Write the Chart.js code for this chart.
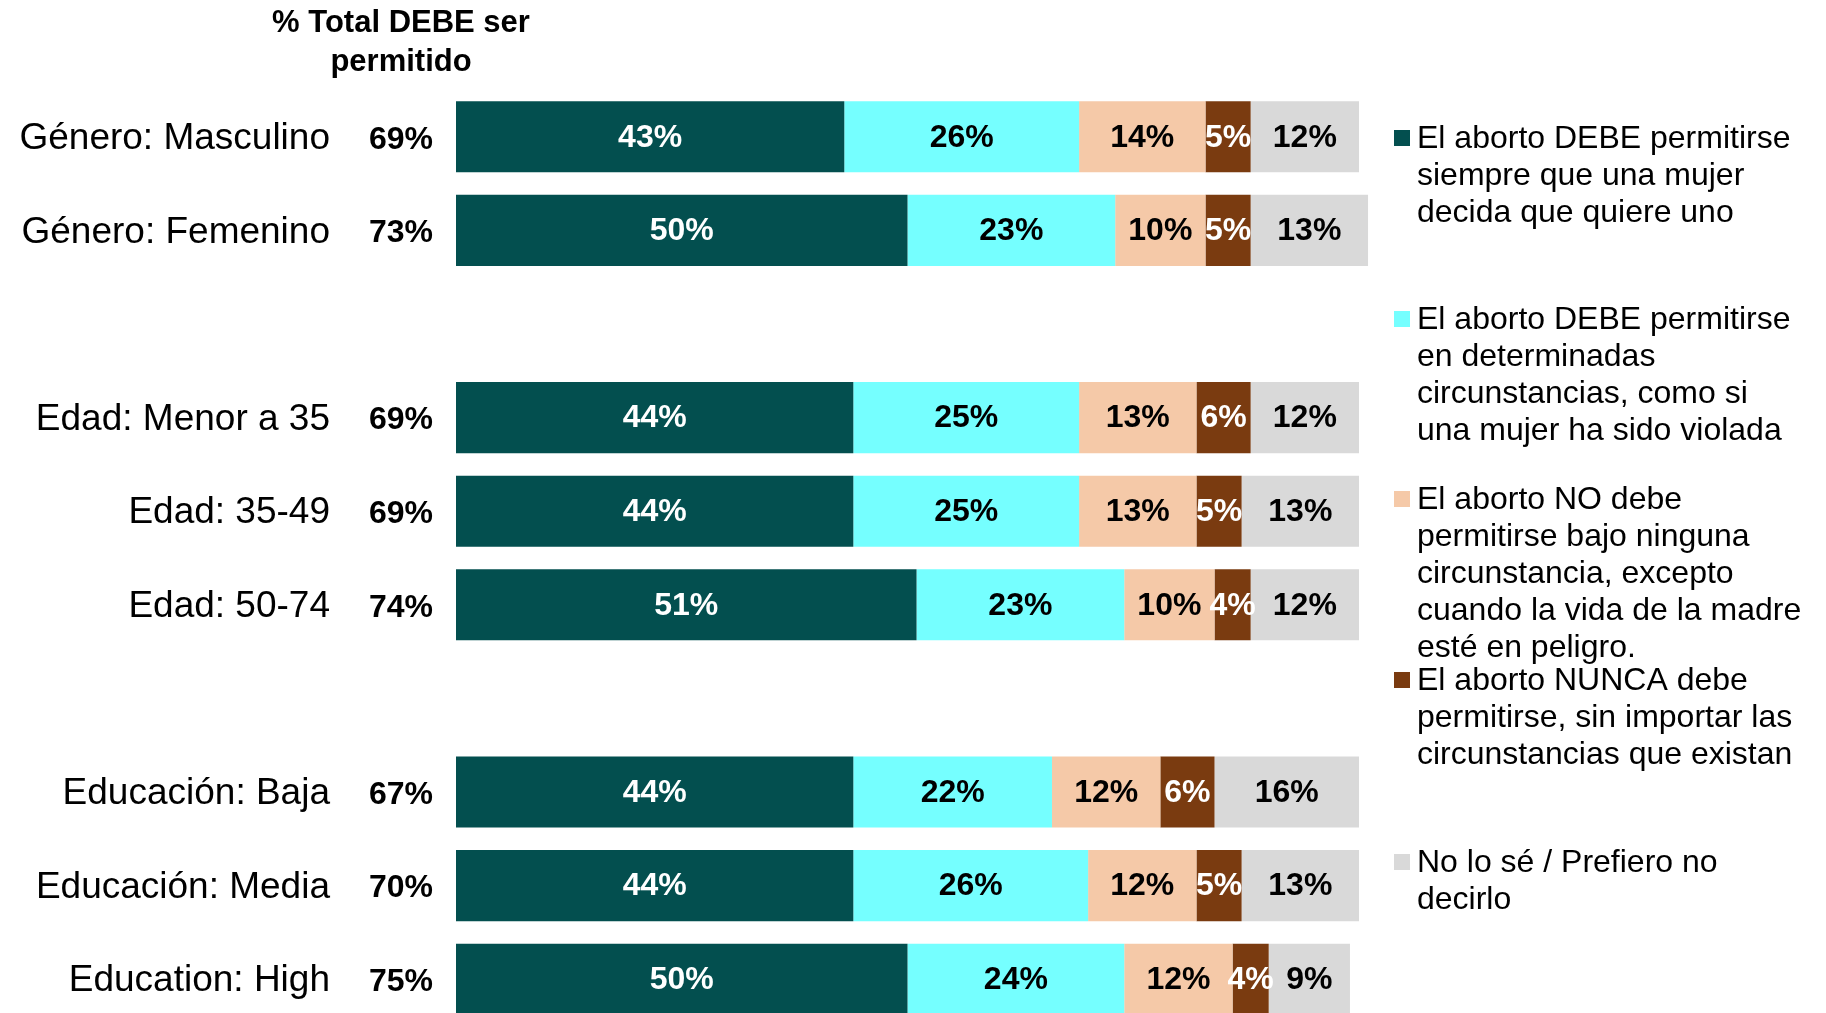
<!DOCTYPE html>
<html>
<head>
    <meta charset="UTF-8">
    <title>Aborto por grupo</title>
    <script src="https://cdn.jsdelivr.net/npm/chart.js"></script>
    <style>
        body {
            margin: 0;
            padding: 0;
            background-color: #ffffff;
            overflow: hidden;
        }
        .chart-container {
            position: relative;
            width: 1826px;
            height: 1040px;
        }
    </style>
</head>
<body>
    <div class="chart-container">
        <canvas id="abortoChart" width="1826" height="1040"></canvas>
    </div>

    <script>
        // categorias (las filas vacias separan los grupos)
        const categories = ['Género: Masculino', 'Género: Femenino', '',
            'Edad: Menor a 35', 'Edad: 35-49', 'Edad: 50-74', '',
            'Educación: Baja', 'Educación: Media', 'Education: High'];
        const totalDebe = [69, 73, null, 69, 69, 74, null, 67, 70, 75];

        // valores por serie (%)
        const siempre        = [43, 50, null, 44, 44, 51, null, 44, 44, 50];
        const circunstancias = [26, 23, null, 25, 25, 23, null, 22, 26, 24];
        const excepto        = [14, 10, null, 13, 13, 10, null, 12, 12, 12];
        const nunca          = [5, 5, null, 6, 5, 4, null, 6, 5, 4];
        const noSe           = [12, 13, null, 12, 13, 12, null, 16, 13, 9];

        const seriesNames = [
            ['El aborto DEBE permitirse', 'siempre que una mujer', 'decida que quiere uno'],
            ['El aborto DEBE permitirse', 'en determinadas', 'circunstancias, como si', 'una mujer ha sido violada'],
            ['El aborto NO debe', 'permitirse bajo ninguna', 'circunstancia, excepto', 'cuando la vida de la madre', 'esté en peligro.'],
            ['El aborto NUNCA debe', 'permitirse, sin importar las', 'circunstancias que existan'],
            ['No lo sé / Prefiero no', 'decirlo']
        ];
        const seriesValues = [siempre, circunstancias, excepto, nunca, noSe];
        const seriesColors = ['#034f4f', '#75ffff', '#f5c9a8', '#7a3b10', '#d9d9d9'];
        const labelColors = ['#ffffff', '#000000', '#000000', '#ffffff', '#000000'];

        const FONT = '"Liberation Sans", Arial, sans-serif';

        // etiquetas, totales, encabezado y leyenda
        const extrasPlugin = {
            id: 'extras',
            afterDatasetsDraw(chart) {
                const ctx = chart.ctx;
                const yScale = chart.scales.y;
                ctx.save();

                // valores dentro de las barras
                ctx.font = 'bold 32px ' + FONT;
                ctx.textAlign = 'center';
                ctx.textBaseline = 'middle';
                chart.data.datasets.forEach((ds, di) => {
                    const meta = chart.getDatasetMeta(di);
                    meta.data.forEach((bar, i) => {
                        const v = ds.data[i];
                        if (v === null) return;
                        const c = bar.getCenterPoint();
                        ctx.fillStyle = labelColors[di];
                        ctx.fillText(v + '%', c.x, c.y + 1);
                    });
                });

                // nombres de categorias y total DEBE
                categories.forEach((cat, i) => {
                    if (!cat) return;
                    const y = yScale.getPixelForValue(i);
                    ctx.fillStyle = '#000000';
                    ctx.font = '37px ' + FONT;
                    ctx.textAlign = 'right';
                    ctx.fillText(cat, 330, y + 2);
                    ctx.font = 'bold 32px ' + FONT;
                    ctx.textAlign = 'center';
                    ctx.fillText(totalDebe[i] + '%', 401, y + 3);
                });

                // encabezado de la columna
                ctx.font = 'bold 31px ' + FONT;
                ctx.textAlign = 'center';
                ctx.fillText('% Total DEBE ser', 401, 23);
                ctx.fillText('permitido', 401, 62);

                // leyenda
                const legendY = [139, 320, 500, 681, 863];
                ctx.font = '32px ' + FONT;
                ctx.textAlign = 'left';
                seriesNames.forEach((lines, si) => {
                    ctx.fillStyle = seriesColors[si];
                    ctx.fillRect(1394, legendY[si] - 9, 16, 16);
                    ctx.fillStyle = '#000000';
                    lines.forEach((line, li) => {
                        ctx.fillText(line, 1417, legendY[si] + li * 37);
                    });
                });
                ctx.restore();
            }
        };

        const ctx = document.getElementById('abortoChart').getContext('2d');
        new Chart(ctx, {
            type: 'bar',
            data: {
                labels: categories,
                datasets: seriesValues.map((vals, i) => ({
                    label: seriesNames[i].join(' '),
                    data: vals,
                    backgroundColor: seriesColors[i],
                    borderWidth: 0,
                    categoryPercentage: 1,
                    barPercentage: 0.76,
                    clip: false
                }))
            },
            options: {
                indexAxis: 'y',
                responsive: false,
                animation: false,
                layout: {
                    padding: { left: 456, right: 467, top: 90, bottom: 14 }
                },
                scales: {
                    x: { stacked: true, min: 0, max: 100, display: false },
                    y: { stacked: true, display: false }
                },
                plugins: {
                    legend: { display: false },
                    tooltip: { enabled: false }
                }
            },
            plugins: [extrasPlugin]
        });
    </script>
</body>
</html>
